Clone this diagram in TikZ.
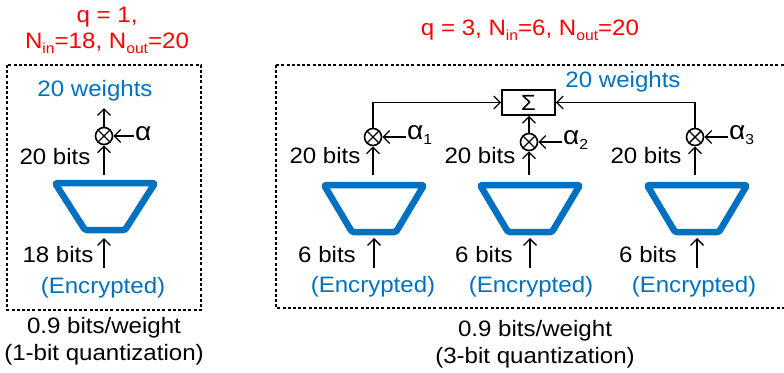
\documentclass[tikz,border=0pt]{standalone}
\usepackage{fontspec}
\setmainfont[FakeStretch=1.08]{Liberation Sans}
\usetikzlibrary{arrows.meta}
\definecolor{myblue}{HTML}{0070C0}
\definecolor{myred}{HTML}{FF0000}
\newcommand{\lowtext}[1]{\raisebox{-0.22em}{\fontsize{14.5}{14.5}\selectfont #1}}
\newcommand{\bigalpha}{{\fontsize{26}{26}\selectfont α}}
\begin{document}
\begin{tikzpicture}[x=1pt,y=-1pt,
  txt/.style={font=\fontsize{22.3}{25}\selectfont, inner sep=0pt},
  btxt/.style={txt, text=myblue},
  rtxt/.style={txt, text=myred},
  arr/.style={line width=1.3pt, -{Straight Barb[length=6.5pt,width=13pt,line width=1.3pt]}},
  otm/.style={circle, draw, line width=1.6pt, minimum size=17pt, inner sep=0pt,
    path picture={\draw[line width=1.4pt] (path picture bounding box.north west) -- (path picture bounding box.south east)
      (path picture bounding box.north east) -- (path picture bounding box.south west);}},
  trap/.style={draw=myblue, line width=6.5pt, line join=round, rounded corners=1.5pt},
  dbox/.style={draw, line width=1.3pt, dash pattern=on 3pt off 2.2pt},
  sbox/.style={draw, line width=1.6pt, minimum width=53pt, minimum height=25pt, inner sep=0pt, font=\fontsize{22}{24}\selectfont}
]
\useasboundingbox (0,0) rectangle (784,372);

% ---------- left panel ----------
\node[rtxt] (tl1) at (107,17) {q = 1,};
\node[rtxt] (tl2) at (107,43) {N\lowtext{in}=18, N\lowtext{out}=20};
\draw[dbox] (7,65) rectangle (201,310);
\node[btxt] (wL) at (95,91) {20 weights};
\node[otm] (oL) at (104,136) {};
\coordinate (tL) at (104,108);
\draw[arr] (oL.north) -- (tL);
\coordinate (aL) at (134,136);
\draw[arr] (aL) -- (oL.east);
\node[txt, anchor=west] (alL) at (135,134) {\bigalpha};
\coordinate (sL) at (104,175);
\draw[arr] (sL) -- (oL.south);
\node[txt] (bL) at (55,157) {20 bits};
\draw[trap] (55,183) -- (155,183) -- (125,230) -- (85,230) -- cycle;
\coordinate (iL0) at (104,268);
\coordinate (iL1) at (104,238);
\draw[arr] (iL0) -- (iL1);
\node[txt] (inL) at (58,255) {18 bits};
\node[btxt] (eL) at (103,288) {(Encrypted)};
\node[txt] (fL1) at (104,328) {0.9 bits/weight};
\node[txt] (fL2) at (104,355) {(1-bit quantization)};

% ---------- right panel ----------
\node[rtxt] (tr) at (530,30) {q = 3, N\lowtext{in}=6, N\lowtext{out}=20};
\draw[dbox] (276,65) rectangle (786,308);
\node[sbox] (sum) at (528.5,102.5) {Σ};
\node[btxt] (wR) at (623,82) {20 weights};

% column 1
\node[otm] (o1) at (373,137) {};
\draw[arr] (373,175) -- (o1.south);
\draw[arr] (406,137) -- (o1.east);
\node[txt, anchor=west] (a1) at (407,135) {\bigalpha\lowtext{1}};
\node[txt] (b1) at (325,156) {20 bits};
\draw[arr] (o1.north) |- (sum.west);
\draw[trap] (324,185) -- (424,185) -- (396,232) -- (352,232) -- cycle;
\draw[arr] (374,268) -- (374,238);
\node[txt] (i1) at (327,255) {6 bits};
\node[btxt] (e1) at (373,287) {(Encrypted)};

% column 2
\node[otm] (o2) at (529,142) {};
\draw[arr] (529,175) -- (o2.south);
\draw[arr] (562,142) -- (o2.east);
\node[txt, anchor=west] (a2) at (563,140) {\bigalpha\lowtext{2}};
\node[txt] (b2) at (480,156) {20 bits};
\draw[arr] (o2.north) -- (o2.north |- sum.south);
\draw[trap] (480,185) -- (580,185) -- (552,232) -- (508,232) -- cycle;
\draw[arr] (530,268) -- (530,238);
\node[txt] (i2) at (484,255) {6 bits};
\node[btxt] (e2) at (531,287) {(Encrypted)};

% column 3
\node[otm] (o3) at (695,137) {};
\draw[arr] (695,175) -- (o3.south);
\draw[arr] (728,137) -- (o3.east);
\node[txt, anchor=west] (a3) at (729,135) {\bigalpha\lowtext{3}};
\node[txt] (b3) at (646,156) {20 bits};
\draw[arr] (o3.north) |- (sum.east);
\draw[trap] (647,185) -- (747,185) -- (719,232) -- (675,232) -- cycle;
\draw[arr] (697,268) -- (697,238);
\node[txt] (i3) at (648,255) {6 bits};
\node[btxt] (e3) at (694,287) {(Encrypted)};

\node[txt] (fR1) at (535,331) {0.9 bits/weight};
\node[txt] (fR2) at (535,358) {(3-bit quantization)};
\end{tikzpicture}
\end{document}
